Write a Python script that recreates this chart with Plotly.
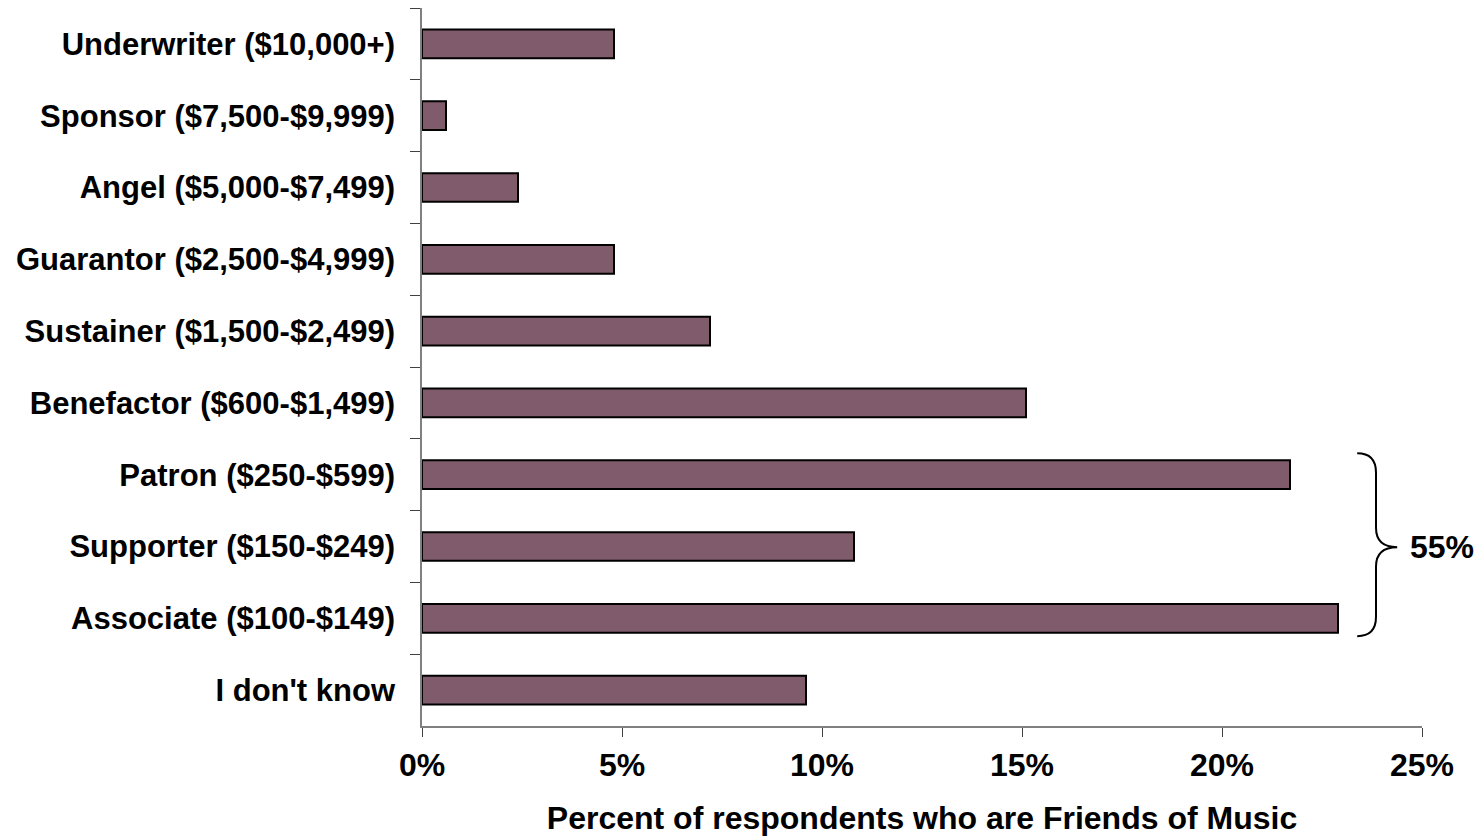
import plotly.graph_objects as go

title_x = 'Percent of respondents who are Friends of Music'

levels = ['Underwriter ($10,000+)', 'Sponsor ($7,500-$9,999)', 'Angel ($5,000-$7,499)',
          'Guarantor ($2,500-$4,999)', 'Sustainer ($1,500-$2,499)', 'Benefactor ($600-$1,499)',
          'Patron ($250-$599)', 'Supporter ($150-$249)', 'Associate ($100-$149)', "I don't know"]
pct = [4.8, 0.6, 2.4, 4.8, 7.2, 15.1, 21.7, 10.8, 22.9, 9.6]

bracket_label = '55%'

font_b = dict(family='Arial, Liberation Sans, sans-serif', size=32, color='black', weight='bold')
font_y = dict(font_b, size=31)

fig = go.Figure()
fig.add_trace(go.Bar(
    x=pct, y=levels, orientation='h', width=0.4,
    marker=dict(color='#7f5b6b', line=dict(color='black', width=2)),
))

# curly brace around Patron..Associate
xl, xm, xt = 23.38, 23.85, 24.38
yt, ymid, yb = 5.70, 7.01, 8.25
r = 0.27
brace = (f'M {xl},{yt} Q {xm},{yt} {xm},{yt + r} L {xm},{ymid - r} '
         f'Q {xm},{ymid} {xt},{ymid} Q {xm},{ymid} {xm},{ymid + r} '
         f'L {xm},{yb - r} Q {xm},{yb} {xl},{yb}')
fig.add_shape(type='path', path=brace, xref='x', yref='y',
              line=dict(color='black', width=2))
fig.add_annotation(x=1.0, xref='paper', xshift=-14, y=ymid, yref='y', text=bracket_label,
                   showarrow=False, font=font_b, xanchor='left', yanchor='middle')

fig.update_layout(
    width=1476, height=828,
    margin=dict(l=414, r=62, t=0, b=110, autoexpand=False),
    paper_bgcolor='white', plot_bgcolor='white',
    showlegend=False, bargap=0.6,
    font=font_b,
)
fig.update_xaxes(
    range=[0, 25], dtick=5, ticksuffix='%', showgrid=False, zeroline=False,
    showline=True, linecolor='#808080', linewidth=1.5,
    ticks='outside', ticklen=9, tickcolor='#404040', tickwidth=1,
    tickfont=font_b, ticklabelstandoff=1,
    title=dict(text=title_x, font=font_b, standoff=24),
)
fig.update_yaxes(
    categoryorder='array', categoryarray=levels, autorange='reversed',
    tickson='boundaries', showgrid=False, zeroline=False,
    showline=True, linecolor='#808080', linewidth=1.5,
    ticks='outside', ticklen=10, tickcolor='#404040', tickwidth=1,
    tickfont=font_y, ticklabelstandoff=19,
)

fig.write_html('out.html')
